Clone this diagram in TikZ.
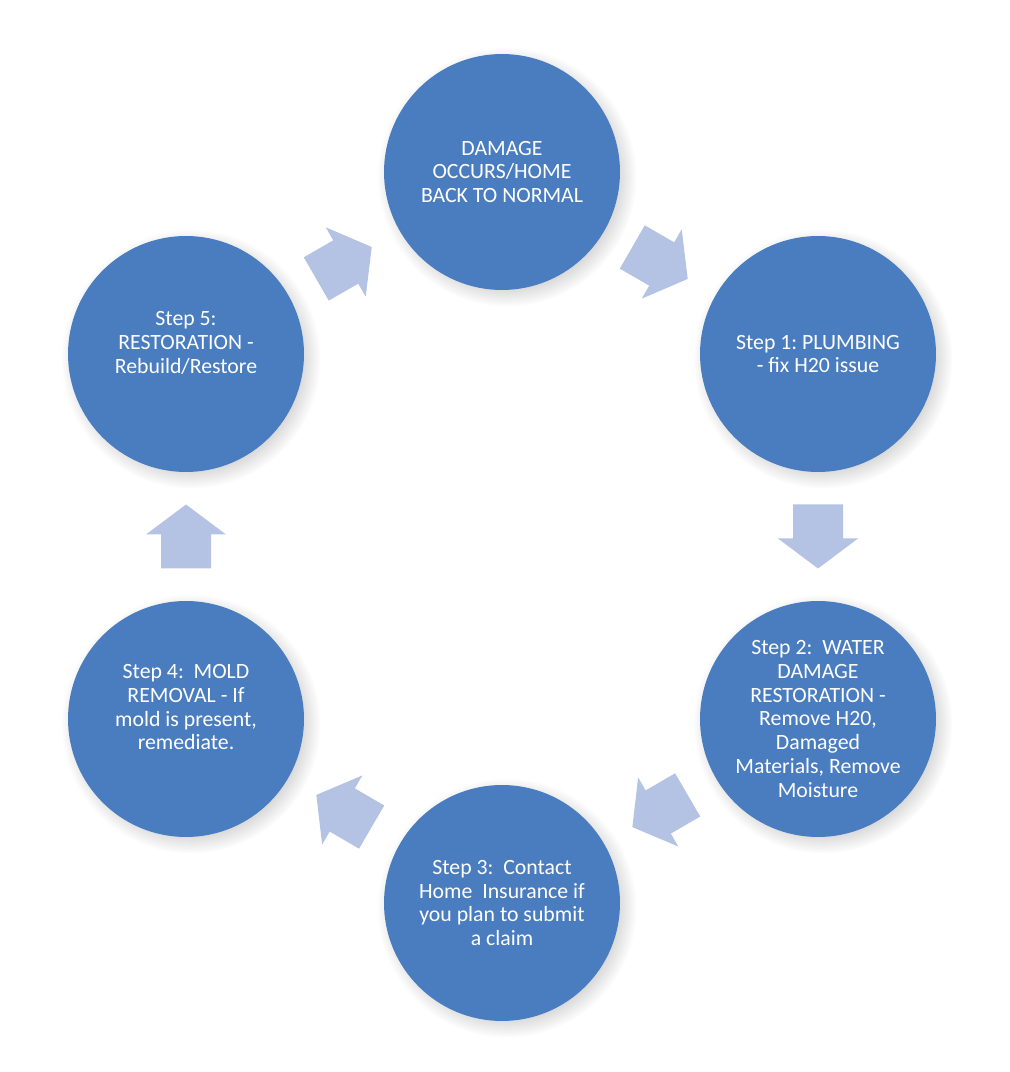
\documentclass[tikz,border=0pt]{standalone}
\usepackage{fontspec}
\setmainfont{Carlito}
\frenchspacing
\usetikzlibrary{shadows}

\definecolor{stepblue}{HTML}{4A7DC0}
\definecolor{arrowblue}{HTML}{B4C3E3}

\begin{document}
\begin{tikzpicture}[x=0.02cm, y=0.02cm,
	stepcircle/.style={circle, fill=stepblue, minimum size=4.72cm, inner sep=0pt, text=white, align=center,
		font=\fontsize{12.4}{13.6}\selectfont,
		circular drop shadow={shadow xshift=2.5pt, shadow yshift=-2.5pt, shadow scale=1.1, opacity=0.3}},
	blockarrow/.pic={\fill[arrowblue] (-32,-25) -- (2,-25) -- (2,-40) -- (32,0) -- (2,40) -- (2,25) -- (-32,25) -- cycle;}]
	\useasboundingbox (0,0) rectangle (1010,1072);
	\node[stepcircle] (home) at (502,900) {DAMAGE\\OCCURS/HOME\\BACK TO NORMAL};
	\node[stepcircle] (plumb) at (818,718) {Step 1: PLUMBING\\- fix H20 issue};
	\node[stepcircle] (water) at (818,353) {Step 2:\ \ WATER\\DAMAGE\\RESTORATION -\\Remove H20,\\Damaged\\Materials, Remove\\Moisture};
	\node[stepcircle] (insure) at (502,169) {Step 3:\ \ Contact\\Home\ \ Insurance if\\you plan to submit\\a claim};
	\node[stepcircle] (mold) at (186,353) {Step 4:\ \ MOLD\\REMOVAL - If\\mold is present,\\remediate.\\~};
	\node[stepcircle] (restore) at (186,718) {Step 5:\\RESTORATION -\\Rebuild/Restore\\~};
	% block arrows round the cycle
	\foreach \a/\b in {home/plumb, plumb/water, water/insure, insure/mold, mold/restore, restore/home}
		\path (\a) -- (\b) pic[midway, sloped, allow upside down] {blockarrow};
\end{tikzpicture}
\end{document}
